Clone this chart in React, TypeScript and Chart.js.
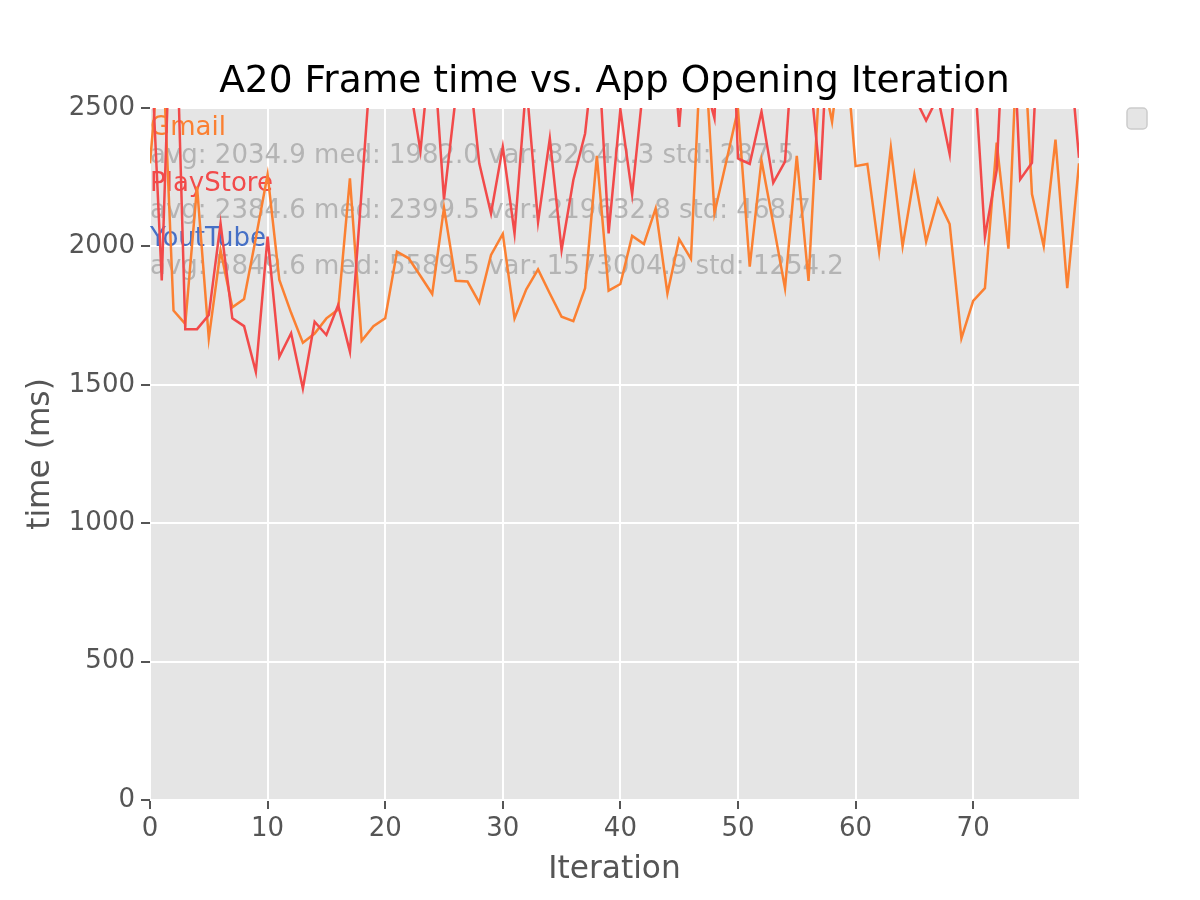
import React, { useEffect, useRef } from 'react';
import { Chart, registerables, Plugin } from 'chart.js';

Chart.register(...registerables);

const FONT = '"DejaVu Sans", "Liberation Sans", sans-serif';

const chartTitle = 'A20 Frame time vs. App Opening Iteration';
const xTitle = 'Iteration';
const yTitle = 'time (ms)';

// frame time per iteration (ms); values above 2500 are clipped in the original
const gmailMs = [
    2300, 2800, 1768, 1720, 2216, 1668, 1985, 1780, 1810, 2030,
    2260, 1879, 1760, 1652, 1685, 1740, 1772, 2246, 1659, 1712,
    1740, 1981, 1957, 1893, 1828, 2140, 1876, 1873, 1797, 1969,
    2045, 1740, 1845, 1917, 1830, 1746, 1730, 1849, 2327, 1840,
    1864, 2038, 2009, 2137, 1830, 2026, 1955, 2850, 2120, 2306,
    2495, 1927, 2310, 2083, 1849, 2327, 1875, 2664, 2450, 2800,
    2290, 2298, 1981, 2357, 2001, 2258, 2017, 2170, 2081, 1668,
    1803, 1849, 2375, 1992, 3000, 2189, 2001, 2386, 1849, 2300,
];

const playStoreMs = [
    2800, 1877, 3200, 1701, 1701, 1752, 2083, 1740, 1712, 1547,
    2035, 1601, 1686, 1487, 1728, 1680, 1788, 1620, 2204, 2790,
    2950, 3050, 2608, 2345, 2780, 2170, 2540, 2705, 2300, 2119,
    2360, 2047, 2590, 2089, 2390, 1987, 2240, 2408, 2800, 2047,
    2495, 2188, 2600, 2900, 2980, 2432, 2950, 2620, 2463, 3500,
    2318, 2298, 2487, 2230, 2306, 2934, 2672, 2240, 3066, 2900,
    3200, 2800, 3100, 2700, 2900, 2540, 2455, 2540, 2334, 2990,
    2717, 2035, 2276, 3180, 2242, 2302, 3200, 3000, 2800, 2320,
];

const seriesNames = ['Gmail', 'PlayStore', 'YoutTube'];
const seriesStats = [
    'avg: 2034.9 med: 1982.0 var: 82640.3 std: 287.5',
    'avg: 2384.6 med: 2399.5 var: 219632.8 std: 468.7',
    'avg: 5849.6 med: 5589.5 var: 1573004.9 std: 1254.2',
];
const seriesColors = ['#FB8032', '#F24A4A', '#4670C6'];

const xTicks = [0, 10, 20, 30, 40, 50, 60, 70];
const yTicks = [0, 500, 1000, 1500, 2000, 2500];

const iterations = gmailMs.map((_, i) => i);

/**
 * Panel background, titles, stat annotations and the empty legend frame
 */
const decorations: Plugin<'line'> = {
    id: 'decorations',
    beforeDraw: (chart) => {
        const { ctx, chartArea } = chart;
        ctx.save();
        ctx.fillStyle = '#E5E5E5';
        ctx.fillRect(chartArea.left, chartArea.top, chartArea.right - chartArea.left, chartArea.bottom - chartArea.top);

        ctx.fillStyle = '#000000';
        ctx.font = `37.5px ${FONT}`;
        ctx.textAlign = 'center';
        ctx.textBaseline = 'alphabetic';
        const cx = (chartArea.left + chartArea.right) / 2;
        ctx.fillText(chartTitle, cx, 92);

        ctx.fillStyle = '#555555';
        ctx.font = `31.25px ${FONT}`;
        ctx.fillText(xTitle, cx, 878);

        ctx.translate(49, (chartArea.top + chartArea.bottom) / 2);
        ctx.rotate(-Math.PI / 2);
        ctx.fillText(yTitle, 0, 0);
        ctx.restore();

        // empty legend box
        ctx.save();
        ctx.beginPath();
        ctx.roundRect(1127, 108, 20, 21, 4);
        ctx.fillStyle = '#E5E5E5';
        ctx.fill();
        ctx.strokeStyle = '#CCCCCC';
        ctx.lineWidth = 1.5;
        ctx.stroke();
        ctx.restore();
    },
    beforeDatasetsDraw: (chart) => {
        const { ctx, chartArea } = chart;
        ctx.save();
        ctx.font = `26px ${FONT}`;
        ctx.textAlign = 'left';
        ctx.textBaseline = 'alphabetic';
        seriesNames.forEach((name, i) => {
            const base = 135 + i * 55.5;
            ctx.fillStyle = seriesColors[i];
            ctx.fillText(name, chartArea.left, base);
            ctx.fillStyle = '#B4B4B4';
            ctx.fillText(seriesStats[i], chartArea.left, base + 27.75);
        });
        ctx.restore();
    },
};

const App: React.FC = () => {
    const canvas = useRef<HTMLCanvasElement>(null);

    useEffect(() => {
        const ctx = canvas.current;
        if (!ctx) return;

        const chart = new Chart(ctx, {
            type: 'line',
            data: {
                labels: iterations,
                datasets: [
                    {
                        label: seriesNames[0],
                        data: gmailMs,
                        borderColor: seriesColors[0],
                        borderWidth: 2.5,
                        pointRadius: 0,
                        tension: 0,
                        clip: 0,
                        order: 1,
                    },
                    {
                        label: seriesNames[1],
                        data: playStoreMs,
                        borderColor: seriesColors[1],
                        borderWidth: 2.5,
                        pointRadius: 0,
                        tension: 0,
                        clip: 0,
                        order: 0,
                    },
                ],
            },
            options: {
                animation: false,
                responsive: false,
                devicePixelRatio: 1,
                layout: {
                    padding: { left: 0, top: 108, right: 121, bottom: 0 },
                },
                plugins: {
                    legend: { display: false },
                    tooltip: { enabled: false },
                    title: { display: false },
                },
                scales: {
                    x: {
                        type: 'linear',
                        min: 0,
                        max: 79,
                        border: { display: false },
                        grid: { color: '#FFFFFF', lineWidth: 2, tickColor: '#555555', tickLength: 9 },
                        afterBuildTicks: (scale) => {
                            scale.ticks = xTicks.map((value) => ({ value }));
                        },
                        ticks: {
                            padding: 5,
                            color: '#555555',
                            font: { family: FONT, size: 26 },
                            maxRotation: 0,
                            callback: (value) => String(value),
                        },
                        afterFit: (scale) => {
                            scale.height = 100;
                        },
                    },
                    y: {
                        type: 'linear',
                        min: 0,
                        max: 2500,
                        border: { display: false },
                        grid: { color: '#FFFFFF', lineWidth: 2, tickColor: '#555555', tickLength: 9 },
                        afterBuildTicks: (scale) => {
                            scale.ticks = yTicks.map((value) => ({ value }));
                        },
                        ticks: {
                            padding: 6,
                            color: '#555555',
                            font: { family: FONT, size: 26 },
                            callback: (value) => String(value),
                        },
                        afterFit: (scale) => {
                            scale.width = 150;
                        },
                    },
                },
            },
            plugins: [decorations],
        });
        return () => chart.destroy();
    }, []);

    return (
        <div style={{ position: 'absolute', left: 0, top: 0, width: 1200, height: 900, background: '#FFFFFF' }}>
            <canvas ref={canvas} width={1200} height={900}></canvas>
        </div>
    );
};

export default App;
